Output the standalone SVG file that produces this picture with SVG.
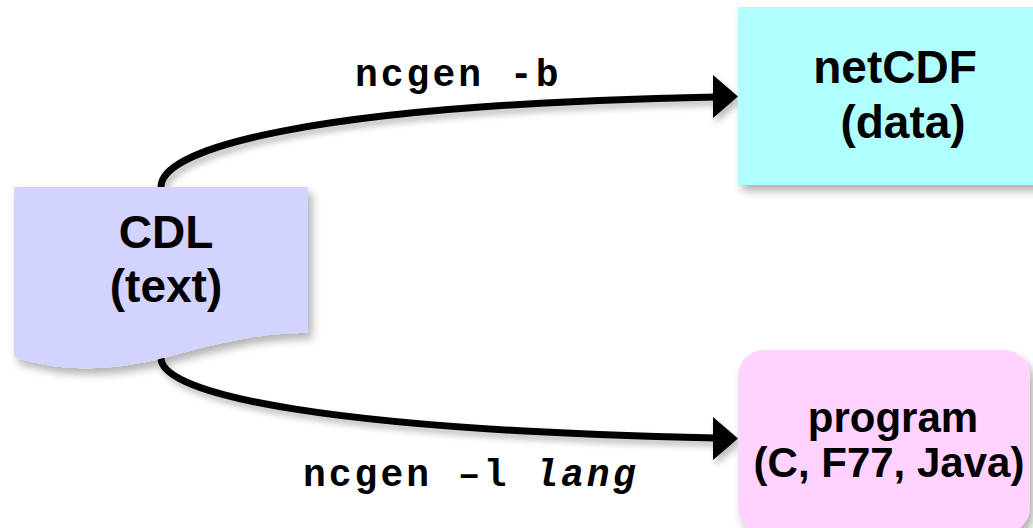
<svg xmlns="http://www.w3.org/2000/svg" width="1033" height="528" viewBox="0 0 1033 528">
  <defs>
    <filter id="shadow" x="-20%" y="-20%" width="140%" height="150%">
      <feDropShadow dx="4" dy="6" stdDeviation="4" flood-color="#000" flood-opacity="0.3"/>
    </filter>
    <filter id="lshadow" x="-10%" y="-50%" width="120%" height="200%">
      <feDropShadow dx="3" dy="5" stdDeviation="3" flood-color="#000" flood-opacity="0.25"/>
    </filter>
  </defs>
  <style>
    .node-text { font-family: "Liberation Sans", Arial, sans-serif; font-weight: bold; fill: #000; text-anchor: middle; }
    .label { font-family: "Courier New", "Liberation Mono", monospace; font-weight: bold; font-size: 38px; letter-spacing: 3px; fill: #000; }
    .conn { fill: none; stroke: #000; stroke-width: 7; }
    .head { fill: #000; stroke: none; }
  </style>
  <rect width="1033" height="528" fill="#fff"/>

  <g id="connectors" filter="url(#lshadow)">
    <path class="conn" d="M161,187 C161,150 300,105 716,97"/>
    <polygon class="head" points="713,75 738,96.5 713,118"/>
    <path class="conn" d="M161,358 C161,395 330,430 716,438"/>
    <polygon class="head" points="713,417 738,438.5 713,460"/>
  </g>

  <g id="label-top">
    <text class="label" x="355" y="86">ncgen -b</text>
  </g>
  <g id="label-bottom">
    <text class="label" x="303" y="486">ncgen –l <tspan font-style="italic">lang</tspan></text>
  </g>

  <g id="node-cdl">
    <path d="M14,187 H308 V333 C260,333 224,342 167,357 C110,372 60,372 14,357 Z" fill="#D3D3FF" filter="url(#shadow)"/>
    <text class="node-text" x="166" y="248" font-size="46">CDL</text>
    <text class="node-text" x="166" y="302" font-size="46">(text)</text>
  </g>

  <g id="node-netcdf">
    <rect x="738" y="7" width="302" height="178" fill="#B0FFFF" filter="url(#shadow)"/>
    <text class="node-text" x="895" y="83" font-size="46">netCDF</text>
    <text class="node-text" x="903" y="138" font-size="46">(data)</text>
  </g>

  <g id="node-program">
    <rect x="738" y="350" width="292" height="183" rx="26" ry="26" fill="#FFD2FF" filter="url(#shadow)"/>
    <text class="node-text" x="893" y="432" font-size="42">program</text>
    <text class="node-text" x="889" y="477" font-size="42">(C, F77, Java)</text>
  </g>
</svg>
